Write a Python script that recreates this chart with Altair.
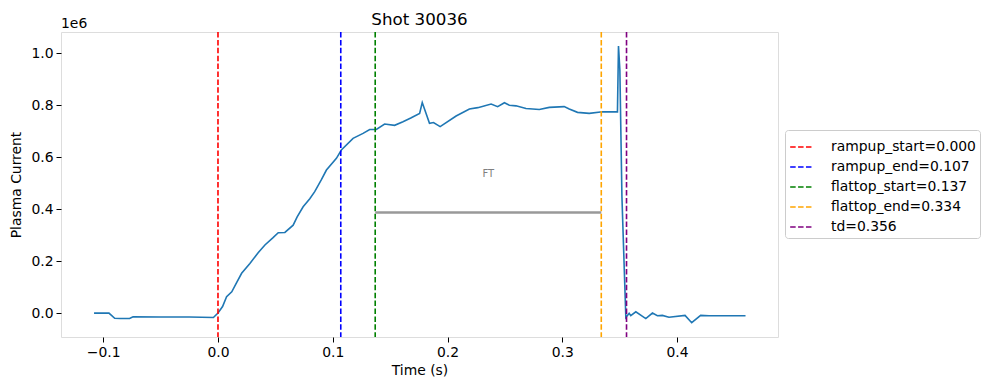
import altair as alt
import pandas as pd

# Plasma current trace (values in units of 1e6 A)
time_s = [-0.108, -0.095, -0.090, -0.085, -0.077, -0.074, -0.050, -0.025, -0.004, 0.000,
          0.004, 0.0075, 0.012, 0.016, 0.0206, 0.0278, 0.035, 0.0409, 0.0480, 0.0525,
          0.0583, 0.0655, 0.069, 0.0742, 0.0800, 0.0843, 0.090, 0.0945, 0.1032, 0.1075,
          0.1177, 0.1264, 0.1322, 0.138, 0.1452, 0.1539, 0.1612, 0.168, 0.1757,
          0.178, 0.1843, 0.1878, 0.1936, 0.2075, 0.2191, 0.2264, 0.238, 0.2437, 0.2496,
          0.2539, 0.2597, 0.2684, 0.2800, 0.2887, 0.3017, 0.3061, 0.3133, 0.3235, 0.3351,
          0.3481, 0.349,
          0.3502, 0.352, 0.3554, 0.3583, 0.3597, 0.3641, 0.3728, 0.3786, 0.3829, 0.3872,
          0.393, 0.407, 0.4128, 0.4206, 0.4279, 0.4597]
current = [0.000, 0.000, -0.020, -0.021, -0.021, -0.014, -0.015, -0.015, -0.017, 0.000,
           0.025, 0.063, 0.082, 0.115, 0.153, 0.191, 0.232, 0.262, 0.290, 0.309,
           0.310, 0.338, 0.370, 0.409, 0.440, 0.467, 0.512, 0.550, 0.595, 0.627,
           0.672, 0.691, 0.706, 0.706, 0.727, 0.722, 0.736, 0.750, 0.768,
           0.810, 0.730, 0.733, 0.717, 0.758, 0.785, 0.790, 0.804, 0.794, 0.809,
           0.799, 0.797, 0.787, 0.783, 0.791, 0.794, 0.785, 0.772, 0.768, 0.774,
           0.774, 1.027,
           0.935, 0.447, -0.017, -0.001, -0.010, 0.005, -0.021, 0.000, -0.010, -0.009,
           -0.016, -0.009, -0.037, -0.009, -0.010, -0.010]

# Event markers
event_labels = ["rampup_start=0.000", "rampup_end=0.107", "flattop_start=0.137",
                "flattop_end=0.334", "td=0.356"]
event_times = [0.000, 0.107, 0.137, 0.334, 0.356]
event_colors = ["red", "blue", "green", "orange", "purple"]

# Flat-top annotation
ft_start, ft_end, ft_level = 0.137, 0.334, 0.387
ft_text = "FT"
ft_text_level = 0.535

x_ticks = [-0.1, 0.0, 0.1, 0.2, 0.3, 0.4]
y_ticks = [0.0, 0.2, 0.4, 0.6, 0.8, 1.0]
x_domain = [-0.1368, 0.488]
y_domain = [-0.092, 1.081]

FONT = "DejaVu Sans"
FS = 13.9

trace = pd.DataFrame({"t": time_s, "ip": current})
events = pd.DataFrame({"label": event_labels, "t": event_times})
ft = pd.DataFrame({"t": [ft_start], "t2": [ft_end], "ip": [ft_level]})
ft_lbl = pd.DataFrame({"t": [(ft_start + ft_end) / 2], "ip": [ft_text_level], "txt": [ft_text]})

label_expr = "replace(format(datum.value, '.1f'), '-', '\u2212')"

x_scale = alt.Scale(domain=x_domain, nice=False, zero=False)
y_scale = alt.Scale(domain=y_domain, nice=False, zero=False)

x_axis = alt.Axis(values=x_ticks, labelExpr=label_expr, title="Time (s)", grid=False,
                  tickColor="black", domain=False, tickSize=5, labelPadding=3,
                  labelFontSize=FS, labelFont=FONT, labelColor="black",
                  titleFont=FONT, titleFontSize=FS, titleFontWeight="normal",
                  titleColor="black", titlePadding=5)
y_axis = alt.Axis(values=y_ticks, labelExpr=label_expr, title="Plasma Current", grid=False,
                  tickColor="black", domain=False, tickSize=5, labelPadding=3,
                  labelFontSize=FS, labelFont=FONT, labelColor="black",
                  titleFont=FONT, titleFontSize=FS, titleFontWeight="normal",
                  titleColor="black", titlePadding=7)

line = alt.Chart(trace).mark_line(color="#1f77b4", strokeWidth=1.6, clip=True).encode(
    x=alt.X("t:Q", scale=x_scale, axis=x_axis),
    y=alt.Y("ip:Q", scale=y_scale, axis=y_axis),
)

rules = alt.Chart(events).mark_rule(strokeWidth=1.6, strokeDash=[5.5, 2.4]).encode(
    x=alt.X("t:Q", scale=x_scale),
    color=alt.Color("label:N",
                    scale=alt.Scale(domain=event_labels, range=event_colors),
                    sort=event_labels,
                    legend=alt.Legend(orient="none", legendX=724, legendY=98, title=None,
                                      symbolType="stroke", symbolDash=[5.5, 2.4],
                                      symbolStrokeWidth=1.6, symbolSize=560,
                                      labelFont=FONT, labelFontSize=FS, labelColor="black",
                                      strokeColor="#cccccc", fillColor="white",
                                      padding=4, cornerRadius=3, rowPadding=0,
                                      labelOffset=16)),
)

ft_rule = alt.Chart(ft).mark_rule(color="#999999", strokeWidth=2.5).encode(
    x=alt.X("t:Q", scale=x_scale), x2="t2:Q", y=alt.Y("ip:Q", scale=y_scale)
)
ft_label = alt.Chart(ft_lbl).mark_text(color="gray", fontSize=10, font=FONT).encode(
    x=alt.X("t:Q", scale=x_scale), y=alt.Y("ip:Q", scale=y_scale), text="txt:N"
)

exp_text = alt.Chart(pd.DataFrame({"txt": ["1e6"]})).mark_text(
    align="left", baseline="bottom", fontSize=FS, font=FONT, color="black"
).encode(x=alt.value(0), y=alt.value(-1), text="txt:N")

chart = alt.layer(line, rules, ft_rule, ft_label, exp_text).properties(
    width=717, height=305,
    title=alt.Title("Shot 30036", font=FONT, fontSize=16.7, fontWeight="normal",
                    color="black", offset=-12),
    autosize=alt.AutoSizeParams(type="none"),
    padding={"left": 53, "top": 24, "right": 203, "bottom": 45},
).configure_view(stroke="black", strokeWidth=1.1).configure(background="white")

chart.save("out.html", embed_options={"renderer": "svg", "actions": False})
